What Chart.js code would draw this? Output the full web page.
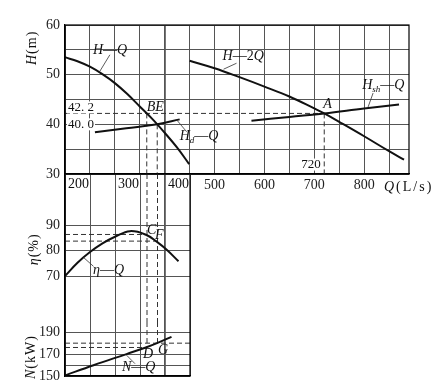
<!DOCTYPE html>
<html>
<head>
<meta charset="utf-8">
<title>pump curves</title>
<script src="https://cdn.jsdelivr.net/npm/chart.js@4.4.1/dist/chart.umd.min.js"></script>
<style>
  body { margin: 0; background: #fff; }
  #wrap { position: relative; width: 447px; height: 382px; background: #fff; overflow: hidden; }
  .box { position: absolute; left: 0; width: 447px; }
  #lowBox { top: 170px; height: 212px; }
  #topBox { top: 0; height: 200px; }
</style>
</head>
<body>
<div id="wrap">
  <div class="box" id="lowBox"><canvas id="lowChart"></canvas></div>
  <div class="box" id="topBox"><canvas id="topChart"></canvas></div>
</div>
<script>
'use strict'
// single pump H-Q
var qHQ = [200, 225, 250, 275, 300, 325, 350, 375, 400, 425, 449];
var hHQ = [53.5, 52.7, 51.6, 50.1, 48.3, 46.1, 43.6, 41.1, 38.3, 35.3, 32.0];
// two pumps in parallel H-2Q
var q2Q = [450, 500, 550, 600, 650, 700, 720, 750, 800, 850, 880];
var h2Q = [52.8, 51.3, 49.5, 47.6, 45.6, 43.2, 42.2, 40.5, 37.6, 34.6, 32.9];
// system curves
var qHsh = [574, 650, 720, 800, 870];
var hHsh = [40.7, 41.5, 42.2, 43.2, 44.0];
var qHd = [260, 323, 385, 430];
var hHd = [38.4, 39.2, 40.0, 41.0];
// efficiency and power
var qEta = [200, 225, 250, 275, 300, 330, 362, 384, 404, 427];
var etaQ = [70.0, 75.2, 79.4, 82.8, 85.4, 87.6, 86.2, 83.4, 80.2, 75.8];
var qN = [200, 257, 323, 363, 384, 413];
var nQ = [150.5, 160.0, 170.3, 176.6, 180.4, 186.3];

// operating points
var qA = 720, hA = 42.2;
var qB = 364, qE = 385, hE = 40.0;
var etaC = 86.3, etaF = 83.7;
var nD = 176.4, nG = 180.4;

// ticks
var qGridTop = [200, 250, 300, 350, 400, 450, 500, 550, 600, 650, 700, 750, 800, 850];
var qLabelsTop = [500, 600, 700, 800];
var qGridLow = [200, 250, 300, 350, 400, 450];
var qLabelsLow = [200, 300, 400];
var hGrid = [30, 35, 40, 45, 50, 55, 60];
var hLabels = [30, 40, 50, 60];
var etaGrid = [70, 80, 90];
var nGrid = [150, 160, 170, 190];
var nLabels = [150, 170, 190];

var serif = '"Liberation Serif", "Times New Roman", serif';
Chart.defaults.font.family = serif;
Chart.defaults.font.size = 14;
Chart.defaults.color = '#222';

function pts(xs, ys) {
    return xs.map(function (x, i) { return {x: x, y: ys[i]}; });
}
function curve(xs, ys, axis) {
    return {data: pts(xs, ys), showLine: true, borderColor: '#111', borderWidth: 2,
        pointRadius: 0, tension: 0.4, yAxisID: axis};
}
function guide(xs, ys, axis) {
    return {data: pts(xs, ys), showLine: true, borderColor: '#333', borderWidth: 1,
        borderDash: [5, 3], pointRadius: 0, yAxisID: axis};
}
function setTicks(list) {
    return function (s) { s.ticks = list.map(function (v) { return {value: v}; }); };
}
function gridWidth(c) {
    return c.tick && c.tick.value === 400 ? 1.8 : 1;
}
function fontFor(size, italic) {
    return (italic ? 'italic ' : '') + size + 'px ' + serif;
}
// parts: [text, italic, subscript]
function rich(ctx, parts, x, y, size, center) {
    var w = 0;
    parts.forEach(function (p) {
        ctx.font = fontFor(p[2] ? Math.round(size * 0.62) : size, p[1]);
        w += ctx.measureText(p[0]).width;
    });
    var cx = center ? x - w / 2 : x;
    parts.forEach(function (p) {
        ctx.font = fontFor(p[2] ? Math.round(size * 0.62) : size, p[1]);
        ctx.fillText(p[0], cx, y + (p[2] ? size * 0.3 : 0));
        cx += ctx.measureText(p[0]).width;
    });
}
function boxedText(ctx, txt, x, y) {
    var w = ctx.measureText(txt).width;
    ctx.fillStyle = '#fff';
    ctx.fillRect(x - 1, y - 6, w + 2, 12);
    ctx.fillStyle = '#111';
    ctx.fillText(txt, x, y);
}
function leader(ctx, x1, y1, x2, y2) {
    ctx.beginPath();
    ctx.moveTo(x1, y1);
    ctx.lineTo(x2, y2);
    ctx.stroke();
}
function vTitle(ctx, parts, x, y, size) {
    ctx.save();
    ctx.translate(x, y);
    ctx.rotate(-Math.PI / 2);
    ctx.letterSpacing = '1px';
    rich(ctx, parts, 0, 0, size, true);
    ctx.restore();
}

var topNotes = {
    id: 'topNotes',
    afterDatasetsDraw: function (chart) {
        var ctx = chart.ctx, a = chart.chartArea;
        var sx = chart.scales.x, sy = chart.scales.y;
        function px(q) { return sx.getPixelForValue(q); }
        function py(h) { return sy.getPixelForValue(h); }
        ctx.save();
        ctx.strokeStyle = '#000';
        ctx.lineWidth = 1.2;
        ctx.strokeRect(a.left, a.top, a.right - a.left, a.bottom - a.top);

        ctx.fillStyle = '#111';
        ctx.textBaseline = 'middle';
        ctx.textAlign = 'left';
        ctx.strokeStyle = '#333';
        ctx.lineWidth = 0.8;

        rich(ctx, [['H', true], ['\u2014'], ['Q', true]], px(256), py(55.0), 14);
        leader(ctx, px(290), py(54.0), px(270), py(50.7));
        rich(ctx, [['H', true], ['\u2014'], ['2'], ['Q', true]], px(516), py(53.6), 14);
        leader(ctx, px(544), py(52.3), px(518), py(51.1));
        rich(ctx, [['H', true], ['sh', true, true], ['\u2014'], ['Q', true]], px(796), py(47.9), 14);
        leader(ctx, px(818), py(46.3), px(808), py(43.5));
        rich(ctx, [['H', true], ['d', true, true], ['\u2014'], ['Q', true]], px(430), py(37.5), 14);
        leader(ctx, px(424), py(40.9), px(444), py(38.5));
        rich(ctx, [['A', true]], px(718), py(44.0), 14);
        rich(ctx, [['BE', true]], px(364), py(43.5), 14);

        ctx.font = fontFor(13, false);
        boxedText(ctx, '42. 2', px(206), py(43.4));
        boxedText(ctx, '40. 0', px(206), py(40.0));
        boxedText(ctx, '720', px(674), py(31.9));

        // axis titles
        vTitle(ctx, [['H', true], ['(m)']], 32, py(55.4), 14);
        ctx.letterSpacing = '2px';
        rich(ctx, [['Q', true], ['(L/s)']], 384, a.bottom + 13, 14);
        ctx.restore();
    }
};

var lowNotes = {
    id: 'lowNotes',
    afterDatasetsDraw: function (chart) {
        var ctx = chart.ctx, a = chart.chartArea;
        var sx = chart.scales.x, se = chart.scales.yEta, sn = chart.scales.yN;
        function px(q) { return sx.getPixelForValue(q); }
        function pe(v) { return se.getPixelForValue(v); }
        function pn(v) { return sn.getPixelForValue(v); }
        ctx.save();
        ctx.strokeStyle = '#000';
        ctx.lineWidth = 1.2;
        ctx.strokeRect(a.left, a.top, a.right - a.left, a.bottom - a.top);

        ctx.fillStyle = '#111';
        ctx.textBaseline = 'middle';
        ctx.textAlign = 'left';
        ctx.font = fontFor(14, false);
        qLabelsLow.forEach(function (q) {
            ctx.fillText(String(q), px(q) + 3, a.top + 10);
        });

        ctx.strokeStyle = '#333';
        ctx.lineWidth = 0.8;
        rich(ctx, [['\u03b7', true], ['\u2014'], ['Q', true]], px(256), pe(72.4), 14);
        leader(ctx, px(237), pe(77.3), px(257), pe(73.8));
        rich(ctx, [['C', true]], px(364), pe(87.8), 14);
        rich(ctx, [['F', true]], px(380), pe(85.9), 14);
        rich(ctx, [['N', true], ['\u2014'], ['Q', true]], px(314), pn(158.4), 14);
        leader(ctx, px(323), pn(169.3), px(340), pn(161.4));
        rich(ctx, [['D', true]], px(356), pn(170.0), 14);
        rich(ctx, [['G', true]], px(386), pn(173.4), 14);

        vTitle(ctx, [['\u03b7', true], ['(%)']], 34, pe(80.5), 14);
        vTitle(ctx, [['N', true], ['(kW)']], 31, pn(167.5), 14);
        ctx.restore();
    }
};

var topChart = new Chart(document.getElementById('topChart'), {
    type: 'scatter',
    data: {
        datasets: [
            curve(qHQ, hHQ, 'y'),
            curve(q2Q, h2Q, 'y'),
            curve(qHsh, hHsh, 'y'),
            curve(qHd, hHd, 'y'),
            guide([200, qA], [hA, hA], 'y'),
            guide([qA, qA], [hA, 30], 'y'),
            guide([qB, qB], [hA, 30], 'y'),
            guide([qE, qE], [hE, 30], 'y')
        ]
    },
    options: {
        responsive: true,
        maintainAspectRatio: false,
        animation: false,
        events: [],
        layout: {padding: {top: 25, right: 38, left: 0, bottom: 0}},
        plugins: {legend: {display: false}, tooltip: {enabled: false}},
        scales: {
            x: {
                type: 'linear', min: 200, max: 890,
                afterBuildTicks: setTicks(qGridTop),
                afterFit: function (s) { s.height = 26; s.paddingLeft = 0; s.paddingRight = 0; },
                grid: {color: '#555', lineWidth: gridWidth, drawTicks: false},
                border: {color: '#000', width: 1.2},
                ticks: {
                    padding: 3, autoSkip: false, maxRotation: 0,
                    callback: function (v) { return qLabelsTop.indexOf(v) >= 0 ? String(v) : ''; }
                }
            },
            y: {
                type: 'linear', min: 30, max: 60,
                afterBuildTicks: setTicks(hGrid),
                afterFit: function (s) { s.width = 65; s.paddingTop = 0; s.paddingBottom = 0; },
                grid: {color: '#555', lineWidth: 1, drawTicks: false},
                border: {color: '#000', width: 1.2},
                ticks: {
                    padding: 5, autoSkip: false,
                    callback: function (v) { return hLabels.indexOf(v) >= 0 ? String(v) : ''; }
                }
            }
        }
    },
    plugins: [topNotes]
});

var lowChart = new Chart(document.getElementById('lowChart'), {
    type: 'scatter',
    data: {
        datasets: [
            curve(qEta, etaQ, 'yEta'),
            curve(qN, nQ, 'yN'),
            guide([qB, qB], [110, 52], 'yEta'),
            guide([qE, qE], [110, 52], 'yEta'),
            guide([qB, qB], [200, nD], 'yN'),
            guide([qE, qE], [200, nG], 'yN'),
            guide([200, qB], [etaC, etaC], 'yEta'),
            guide([200, qE], [etaF, etaF], 'yEta'),
            guide([200, qB], [nD, nD], 'yN'),
            guide([200, 450], [nG, nG], 'yN')
        ]
    },
    options: {
        responsive: true,
        maintainAspectRatio: false,
        animation: false,
        events: [],
        layout: {padding: {top: 4, right: 257, left: 0, bottom: 6}},
        plugins: {legend: {display: false}, tooltip: {enabled: false}},
        scales: {
            x: {
                type: 'linear', min: 200, max: 450,
                afterBuildTicks: setTicks(qGridLow),
                afterFit: function (s) { s.height = 0; s.paddingLeft = 0; s.paddingRight = 0; },
                grid: {color: '#555', lineWidth: gridWidth, drawTicks: false},
                border: {color: '#000', width: 1.2},
                ticks: {display: false}
            },
            yN: {
                type: 'linear', position: 'left', stack: 'low', stackWeight: 54,
                min: 150, max: 200,
                afterBuildTicks: setTicks(nGrid),
                afterFit: function (s) { s.width = 65; s.paddingTop = 0; s.paddingBottom = 0; },
                grid: {color: '#555', lineWidth: 1, drawTicks: false},
                border: {color: '#000', width: 1.2},
                ticks: {
                    padding: 5, autoSkip: false,
                    callback: function (v) { return nLabels.indexOf(v) >= 0 ? String(v) : ''; }
                }
            },
            yEta: {
                type: 'linear', position: 'left', stack: 'low', stackWeight: 148,
                min: 52, max: 110,
                afterBuildTicks: setTicks(etaGrid),
                afterFit: function (s) { s.width = 65; s.paddingTop = 0; s.paddingBottom = 0; },
                grid: {color: '#555', lineWidth: 1, drawTicks: false},
                border: {color: '#000', width: 1.2},
                ticks: {padding: 5, autoSkip: false}
            }
        }
    },
    plugins: [lowNotes]
});
</script>
</body>
</html>
